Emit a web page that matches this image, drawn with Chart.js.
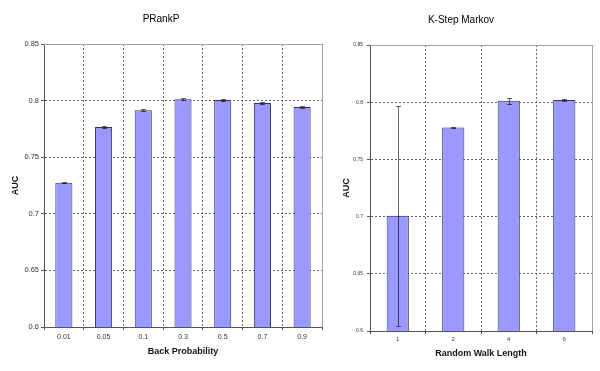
<!DOCTYPE html>
<html>
<head>
<meta charset="utf-8">
<script src="https://cdn.jsdelivr.net/npm/chart.js@4"></script>
<style>
html,body{margin:0;padding:0;background:#fff;}
#wrap{position:relative;width:600px;height:371px;overflow:hidden;}
canvas{position:absolute;top:0;}
#c1{left:0;}
#c2{left:330px;}
</style>
</head>
<body>
<div id="wrap">
<canvas id="c1" width="330" height="371"></canvas>
<canvas id="c2" width="270" height="371"></canvas>
</div>
<script>
// ---- data ----
const prankCategories = ['0.01', '0.05', '0.1', '0.3', '0.5', '0.7', '0.9'];
const prankValues = [0.7275, 0.7767, 0.7915, 0.8013, 0.8005, 0.7979, 0.7943];
const prankErrors = [0.0007, 0.0012, 0.0008, 0.0012, 0.0012, 0.0008, 0.0006];

const markovCategories = ['1', '2', '4', '6'];
const markovValues = [0.7007, 0.7778, 0.8012, 0.8020];
const markovErrors = [0.0962, 0.0005, 0.0025, 0.0008];

const yTickLabels = ['0.6', '0.65', '0.7', '0.75', '0.8', '0.85'];

const FONT = '"Liberation Sans", Arial, sans-serif';

const errorBarPlugin = {
  id: 'errorBars',
  afterDatasetsDraw(chart, args, opts) {
    const ctx = chart.ctx;
    const y = chart.scales.y;
    const meta = chart.getDatasetMeta(0);
    const vals = chart.data.datasets[0].data;
    const errs = opts.errors;
    ctx.save();
    ctx.strokeStyle = 'rgba(0,0,0,0.6)';
    ctx.lineWidth = 1;
    meta.data.forEach((el, i) => {
      const x = Math.round(el.x) + 0.5;
      const yt = Math.round(y.getPixelForValue(vals[i] + errs[i])) + 0.5;
      const yb = Math.round(y.getPixelForValue(vals[i] - errs[i])) + 0.5;
      const hw = opts.cap;
      ctx.beginPath();
      ctx.moveTo(x, yt); ctx.lineTo(x, yb);
      ctx.moveTo(x - hw, yt); ctx.lineTo(x + hw, yt);
      ctx.moveTo(x - hw, yb); ctx.lineTo(x + hw, yb);
      ctx.stroke();
    });
    ctx.restore();
  }
};

const framePlugin = {
  id: 'frame',
  beforeDatasetsDraw(chart) {
    const {ctx, chartArea: a} = chart;
    ctx.save();
    ctx.strokeStyle = '#a0a0a0';
    ctx.lineWidth = 1;
    ctx.beginPath();
    ctx.moveTo(Math.round(a.left), Math.round(a.top) + 0.5);
    ctx.lineTo(Math.round(a.right) + 0.5, Math.round(a.top) + 0.5);
    ctx.lineTo(Math.round(a.right) + 0.5, Math.round(a.bottom));
    ctx.stroke();
    ctx.restore();
  }
};

function makeChart(id, cfg) {
  const n = cfg.categories.length;
  return new Chart(document.getElementById(id), {
    type: 'bar',
    data: {
      labels: cfg.categories,
      datasets: [{
        data: cfg.values,
        backgroundColor: '#9999ff',
        borderColor: '#333366',
        borderWidth: 1,
        borderSkipped: false,
        categoryPercentage: 1,
        barPercentage: cfg.barPct
      }]
    },
    options: {
      responsive: false,
      animation: false,
      devicePixelRatio: 1,
      layout: {padding: {left: 0, right: cfg.padRight, top: 0, bottom: 0}},
      plugins: {
        legend: {display: false},
        tooltip: {enabled: false},
        title: {
          display: true,
          text: cfg.title,
          color: '#000',
          font: {family: FONT, size: 10, weight: 'normal'},
          padding: {top: cfg.titleTop, bottom: cfg.titleBottom}
        },
        errorBars: {errors: cfg.errors, cap: cfg.cap}
      },
      scales: {
        x: {
          grid: {
            offset: true,
            color: (c) => (c.index === 0 || c.index >= n) ? 'rgba(0,0,0,0)' : '#666',
            lineWidth: 1,
            tickLength: 3,
            tickColor: '#555',
            drawTicks: true
          },
          border: {display: true, color: '#555', width: 1, dash: [2, 2]},
          ticks: {
            color: '#333',
            font: {family: FONT, size: cfg.xTickSize},
            padding: cfg.xTickPad,
            maxRotation: 0, autoSkip: false
          },
          title: {
            display: true,
            text: cfg.xTitle,
            color: '#111',
            font: {family: FONT, size: 9, weight: 'bold'},
            padding: {top: 0, bottom: cfg.xTitleBottom}
          },
          afterFit: (s) => { s.height = cfg.xAxisH; }
        },
        y: {
          min: 0.6, max: 0.85,
          grid: {
            color: (c) => (c.index === 0 || c.index === yTickLabels.length - 1) ? 'rgba(0,0,0,0)' : '#666',
            lineWidth: 1,
            tickLength: 3,
            tickColor: '#555'
          },
          border: {display: true, color: '#555', width: 1, dash: [2, 2]},
          ticks: {
            stepSize: 0.05,
            color: '#333',
            font: {family: FONT, size: cfg.yTickSize},
            padding: cfg.yTickPad,
            callback: (v, i) => yTickLabels[i]
          },
          title: {
            display: true,
            text: 'AUC',
            color: '#111',
            font: {family: FONT, size: 9, weight: 'bold'},
            padding: {top: cfg.yTitleTop, bottom: 0}
          },
          afterFit: (s) => { s.width = cfg.yAxisW; }
        }
      }
    },
    plugins: [framePlugin, errorBarPlugin]
  });
}

makeChart('c1', {
  categories: prankCategories, values: prankValues, errors: prankErrors,
  title: 'PRankP', xTitle: 'Back Probability',
  barPct: 0.43, padRight: 8, titleTop: 13, titleBottom: 19,
  xTickSize: 7, xTickPad: 3, xTitleBottom: 14.5, xAxisH: 44,
  yTickSize: 7.5, yTickPad: 2, yTitleTop: 10.5, yAxisW: 44, cap: 2.5
});

makeChart('c2', {
  categories: markovCategories, values: markovValues, errors: markovErrors,
  title: 'K-Step Markov', xTitle: 'Random Walk Length',
  barPct: 0.4, padRight: 8, titleTop: 14, titleBottom: 19,
  xTickSize: 6, xTickPad: 2, xTitleBottom: 12.5, xAxisH: 40,
  yTickSize: 5, yTickPad: 4, yTitleTop: 11.5, yAxisW: 40, cap: 2.5
});
</script>
</body>
</html>
